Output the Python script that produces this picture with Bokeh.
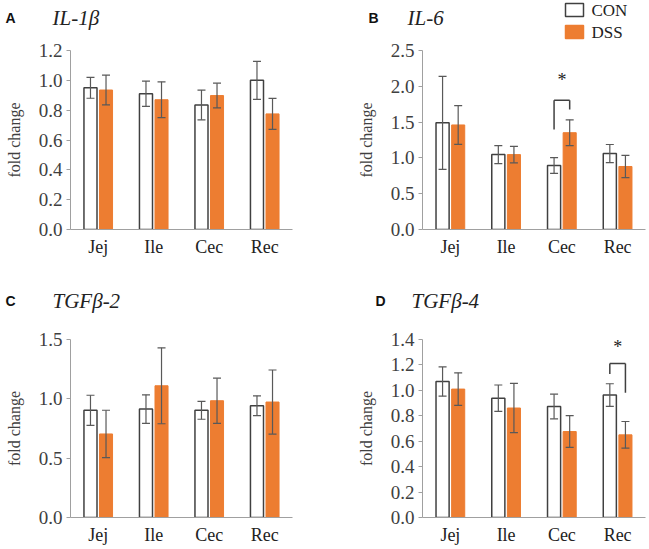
from bokeh.plotting import figure
from bokeh.layouts import column, row
from bokeh.models import (ColumnDataSource, FactorRange, Range1d, Whisker,
                          FixedTicker, NumeralTickFormatter)
from bokeh.transform import dodge
from bokeh.core.properties import value
from bokeh.embed import file_html
from bokeh.resources import INLINE

sites = ["Jej", "Ile", "Cec", "Rec"]
groups = ["CON", "DSS"]

# IL-1beta
il1b_con = [0.95, 0.91, 0.835, 1.00]
il1b_con_err = [0.07, 0.085, 0.10, 0.127]
il1b_dss = [0.935, 0.87, 0.898, 0.775]
il1b_dss_err = [0.10, 0.12, 0.083, 0.104]

# IL-6
il6_con = [1.49, 1.046, 0.894, 1.06]
il6_con_err = [0.65, 0.125, 0.11, 0.127]
il6_dss = [1.46, 1.046, 1.352, 0.88]
il6_dss_err = [0.27, 0.115, 0.18, 0.155]

# TGFbeta-2
tgf2_con = [0.903, 0.914, 0.903, 0.942]
tgf2_con_err = [0.127, 0.12, 0.075, 0.083]
tgf2_dss = [0.704, 1.11, 0.984, 0.973]
tgf2_dss_err = [0.20, 0.32, 0.19, 0.27]

# TGFbeta-4
tgf4_con = [1.069, 0.938, 0.873, 0.963]
tgf4_con_err = [0.115, 0.104, 0.097, 0.089]
tgf4_dss = [1.01, 0.861, 0.676, 0.65]
tgf4_dss_err = [0.128, 0.194, 0.125, 0.105]

y_ticks_a = [0.0, 0.2, 0.4, 0.6, 0.8, 1.0, 1.2]
y_ticks_b = [0.0, 0.5, 1.0, 1.5, 2.0, 2.5]
y_ticks_c = [0.0, 0.5, 1.0, 1.5]
y_ticks_d = [0.0, 0.2, 0.4, 0.6, 0.8, 1.0, 1.2, 1.4]

# significance: (site, bracket top, left end, right end, star y)
sig_b = ("Cec", 1.806, 1.398, 1.676, 2.09)
sig_d = ("Rec", 1.212, 1.128, 0.981, 1.341)

ORANGE = "#ED7D31"
EDGE = "#404040"
ERR = "#595959"
AXIS = "#A0A0A0"
SERIF = "Liberation Serif"
OFF = 0.14
BW = 0.235


def make_header(width, height, letter, letter_x, title, title_x, base, legend=False):
    h = figure(width=width, height=height, x_range=Range1d(0, width), y_range=Range1d(height, 0),
               x_axis_type=None, y_axis_type=None, output_backend="svg", toolbar_location=None,
               min_border=0)
    h.outline_line_color = None
    h.xgrid.grid_line_color = None
    h.ygrid.grid_line_color = None
    h.text(x=[letter_x], y=[base], text=[letter], text_font=value("Liberation Sans"),
           text_font_style="bold", text_font_size="14px", text_color="#111111",
           text_baseline="alphabetic", text_align="left")
    h.text(x=[title_x], y=[base], text=[title], text_font=value(SERIF),
           text_font_style="italic", text_font_size="21px", text_color="#222222",
           text_baseline="alphabetic", text_align="left")
    if legend:
        src = ColumnDataSource(dict(label=groups, y=[9.5, 31.5],
                                    fill=["white", ORANGE], line=[EDGE, ORANGE]))
        h.rect(x=249, y="y", width=18, height=13, source=src, fill_color="fill",
               line_color="line", line_width=1.5)
        h.text(x=266, y="y", text="label", source=src, text_font=value(SERIF),
               text_font_size="17px", text_color="#222222", text_baseline="middle",
               text_align="left")
    return h


def make_panel(con, con_err, dss, dss_err, ticks, ymax,
               width, height, left, right, top, bottom, sig=None):
    p = figure(width=width, height=height, x_range=FactorRange(*sites, range_padding=0),
               y_range=Range1d(0, ymax), output_backend="svg", toolbar_location=None,
               min_border_left=left, min_border_right=right,
               min_border_top=top, min_border_bottom=bottom)
    p.outline_line_color = None
    p.xgrid.grid_line_color = None
    p.ygrid.grid_line_color = None

    src = ColumnDataSource(dict(
        site=sites, con=con, dss=dss,
        con_lo=[v - e for v, e in zip(con, con_err)],
        con_hi=[v + e for v, e in zip(con, con_err)],
        dss_lo=[v - e for v, e in zip(dss, dss_err)],
        dss_hi=[v + e for v, e in zip(dss, dss_err)],
    ))
    p.vbar(x=dodge("site", -OFF, range=p.x_range), top="con", width=BW, source=src,
           fill_color="white", line_color=EDGE, line_width=1.5)
    p.vbar(x=dodge("site", OFF, range=p.x_range), top="dss", width=BW, source=src,
           fill_color=ORANGE, line_color=ORANGE, line_width=1)
    for off, lo, hi in ((-OFF, "con_lo", "con_hi"), (OFF, "dss_lo", "dss_hi")):
        w = Whisker(source=src, base=dodge("site", off, range=p.x_range), lower=lo, upper=hi,
                    line_color=ERR, line_width=1.2, level="overlay")
        for head in (w.upper_head, w.lower_head):
            head.size = 8
            head.line_color = ERR
            head.line_width = 1.2
        p.add_layout(w)

    if sig is not None:
        s, ytop, yl, yr, ystar = sig
        bs = ColumnDataSource(dict(site=[s], top=[ytop], yl=[yl], yr=[yr], star=[ystar]))
        p.segment(x0=dodge("site", -OFF, range=p.x_range), x1=dodge("site", OFF, range=p.x_range),
                  y0="top", y1="top", source=bs, line_color=EDGE, line_width=1.5)
        p.segment(x0=dodge("site", -OFF, range=p.x_range), x1=dodge("site", -OFF, range=p.x_range),
                  y0="top", y1="yl", source=bs, line_color=EDGE, line_width=1.5)
        p.segment(x0=dodge("site", OFF, range=p.x_range), x1=dodge("site", OFF, range=p.x_range),
                  y0="top", y1="yr", source=bs, line_color=EDGE, line_width=1.5)
        p.text(x="site", y="star", text=value("*"), source=bs, text_align="center",
               text_baseline="middle", text_font=value(SERIF), text_font_size="18px",
               text_color="#222222")

    p.yaxis.ticker = FixedTicker(ticks=ticks)
    p.yaxis.formatter = NumeralTickFormatter(format="0.0")
    p.yaxis.axis_label = "fold change"
    p.yaxis.axis_label_text_font = SERIF
    p.yaxis.axis_label_text_font_style = "normal"
    p.yaxis.axis_label_text_font_size = "16px"
    p.yaxis.axis_label_text_color = EDGE
    p.yaxis.axis_label_standoff = 13
    p.yaxis.major_label_text_font = SERIF
    p.yaxis.major_label_text_font_size = "19px"
    p.yaxis.major_label_text_color = EDGE
    p.yaxis.axis_line_color = AXIS
    p.yaxis.major_tick_line_color = AXIS
    p.yaxis.major_tick_out = 4
    p.yaxis.major_tick_in = 0
    p.yaxis.major_label_standoff = 4
    p.yaxis.minor_tick_line_color = None
    p.xaxis.axis_line_color = AXIS
    p.xaxis.major_tick_line_color = None
    p.xaxis.minor_tick_line_color = None
    p.xaxis.major_tick_out = 0
    p.xaxis.major_tick_in = 0
    p.xaxis.major_label_text_font = SERIF
    p.xaxis.major_label_text_font_size = "18px"
    p.xaxis.major_label_text_color = "#222222"
    p.xaxis.major_label_standoff = 7
    return p


ha = make_header(325, 41, "A", 5, "IL-1β", 52, 17)
hb = make_header(323, 41, "B", 43, "IL-6", 82, 17, legend=True)
pa = make_panel(il1b_con, il1b_con_err, il1b_dss, il1b_dss_err, y_ticks_a, 1.2,
                325, 234, 70, 33, 9, 46)
pb = make_panel(il6_con, il6_con_err, il6_dss, il6_dss_err, y_ticks_b, 2.5,
                323, 234, 97, 3, 8, 46, sig=sig_b)
hc = make_header(325, 45, "C", 5, "TGFβ-2", 52, 25)
hd = make_header(323, 45, "D", 50, "TGFβ-4", 86, 25)
pc = make_panel(tgf2_con, tgf2_con_err, tgf2_dss, tgf2_dss_err, y_ticks_c, 1.5,
                325, 228, 70, 33, 19, 31)
pd_ = make_panel(tgf4_con, tgf4_con_err, tgf4_dss, tgf4_dss_err, y_ticks_d, 1.4,
                 323, 228, 97, 3, 18, 28, sig=sig_d)

layout = column(row(ha, hb), row(pa, pb), row(hc, hd), row(pc, pd_))
open("out.html", "w").write(file_html(layout, INLINE))
